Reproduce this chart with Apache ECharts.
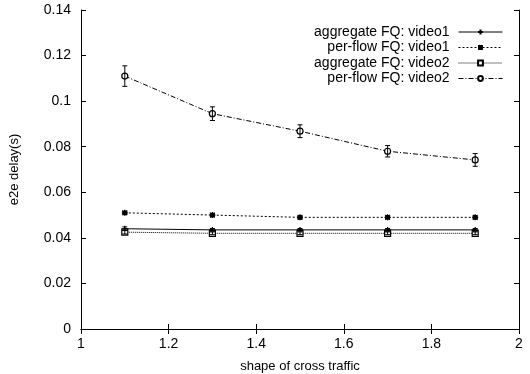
<!DOCTYPE html>
<html>
<head>
<meta charset="utf-8">
<script src="https://cdn.jsdelivr.net/npm/echarts@6/dist/echarts.min.js"></script>
<style>
  html, body { margin: 0; padding: 0; background: #fff; }
  #chart { width: 530px; height: 374px; }
</style>
</head>
<body>
<div id="chart"></div>
<script>
const shapes = [1.1, 1.3, 1.5, 1.7, 1.9]
const aggVideo1 = [0.044, 0.0435, 0.0435, 0.0435, 0.0435]
const aggVideo1Err = [0.0008, 0.0006, 0.0006, 0.0006, 0.0006]
const flowVideo1 = [0.051, 0.050, 0.049, 0.049, 0.049]
const flowVideo1Err = [0.0005, 0.0005, 0.0005, 0.0005, 0.0005]
const aggVideo2 = [0.0425, 0.042, 0.042, 0.042, 0.042]
const aggVideo2Err = [0.0008, 0.0006, 0.0006, 0.0006, 0.0006]
const flowVideo2 = [0.111, 0.0945, 0.0868, 0.078, 0.0742]
const flowVideo2Err = [0.0045, 0.003, 0.0028, 0.0025, 0.0028]
const names = ['aggregate FQ: video1', 'per-flow FQ: video1', 'aggregate FQ: video2', 'per-flow FQ: video2']

const font = 'Liberation Sans, Arial, sans-serif'
const plus = 'path://M0,5 L10,5 M5,0 L5,10'
const star = 'path://M1,1 L9,9 M9,1 L1,9 M0,5 L10,5 M5,0 L5,10 M2,2 L8,2 L8,8 L2,8 Z'

function pts(vals) {
  return vals.map((v, i) => [shapes[i], v])
}

function lineSeries(name, vals, dash, symbol, size, fill) {
  return {
    name: name,
    type: 'line',
    data: pts(vals),
    symbol: symbol,
    symbolSize: size,
    showAllSymbol: true,
    lineStyle: { color: '#000', width: 1, type: dash },
    itemStyle: { color: fill, borderColor: '#000', borderWidth: 1.2 },
    emphasis: { disabled: true },
    z: 3
  }
}

function errSeries(vals, errs) {
  return {
    type: 'custom',
    data: vals.map((v, i) => [shapes[i], v - errs[i], v + errs[i]]),
    renderItem(params, api) {
      const lo = api.coord([api.value(0), api.value(1)])
      const hi = api.coord([api.value(0), api.value(2)])
      const w = 2.5
      const st = { stroke: '#000', lineWidth: 1 }
      return {
        type: 'group',
        children: [
          { type: 'line', shape: { x1: lo[0], y1: lo[1], x2: hi[0], y2: hi[1] }, style: st },
          { type: 'line', shape: { x1: lo[0] - w, y1: lo[1], x2: lo[0] + w, y2: lo[1] }, style: st },
          { type: 'line', shape: { x1: hi[0] - w, y1: hi[1], x2: hi[0] + w, y2: hi[1] }, style: st }
        ]
      }
    },
    silent: true,
    z: 4
  }
}

const chart = echarts.init(document.getElementById('chart'), null, { renderer: 'canvas' })

const axisLine = { show: true, lineStyle: { color: '#000', width: 1 } }
const tick = { show: true, inside: true, length: 5, lineStyle: { color: '#000' } }

chart.setOption({
  animation: false,
  backgroundColor: '#fff',
  textStyle: { fontFamily: font },
  grid: { left: 81, right: 11, top: 10, bottom: 45, outerBoundsMode: 'none', containLabel: false },
  legend: {
    data: names,
    orient: 'vertical',
    right: 22,
    top: 20,
    align: 'right',
    itemWidth: 44,
    itemHeight: 6,
    itemGap: 1.5,
    lineStyle: { width: 1 },
    textStyle: { fontFamily: font, fontSize: 14, color: '#000', lineHeight: 12, padding: [0, 4, 0, 0] }
  },
  xAxis: [
    {
      type: 'value',
      min: 1, max: 2, interval: 0.2,
      name: 'shape of cross traffic',
      nameLocation: 'middle',
      nameGap: 31,
      nameTextStyle: { fontSize: 13, color: '#000', fontFamily: font },
      axisLine: axisLine,
      axisTick: tick,
      splitLine: { show: false },
      axisLabel: { fontSize: 14, color: '#000', margin: 8, formatter: v => String(+v.toFixed(1)) }
    },
    {
      type: 'value', position: 'top',
      min: 1, max: 2, interval: 0.2,
      axisLine: axisLine, axisTick: tick,
      axisLabel: { show: false }, splitLine: { show: false }
    }
  ],
  yAxis: [
    {
      type: 'value',
      min: 0, max: 0.14, interval: 0.02,
      name: 'e2e delay(s)',
      nameLocation: 'middle',
      nameGap: 60,
      nameTextStyle: { fontSize: 13, color: '#000', fontFamily: font },
      axisLine: axisLine,
      axisTick: tick,
      splitLine: { show: false },
      axisLabel: { fontSize: 14, color: '#000', margin: 10, formatter: v => String(+v.toFixed(2)) }
    },
    {
      type: 'value', position: 'right',
      min: 0, max: 0.14, interval: 0.02,
      axisLine: axisLine, axisTick: tick,
      axisLabel: { show: false }, splitLine: { show: false }
    }
  ],
  series: [
    lineSeries(names[0], aggVideo1, 'solid', plus, 6, '#000'),
    lineSeries(names[1], flowVideo1, [2, 2], star, 6, '#000'),
    lineSeries(names[2], aggVideo2, [1, 1], 'rect', 6, '#fff'),
    lineSeries(names[3], flowVideo2, [5, 2, 1, 2], 'circle', 6, '#fff'),
    errSeries(aggVideo1, aggVideo1Err),
    errSeries(flowVideo1, flowVideo1Err),
    errSeries(aggVideo2, aggVideo2Err),
    errSeries(flowVideo2, flowVideo2Err)
  ]
})
</script>
</body>
</html>
